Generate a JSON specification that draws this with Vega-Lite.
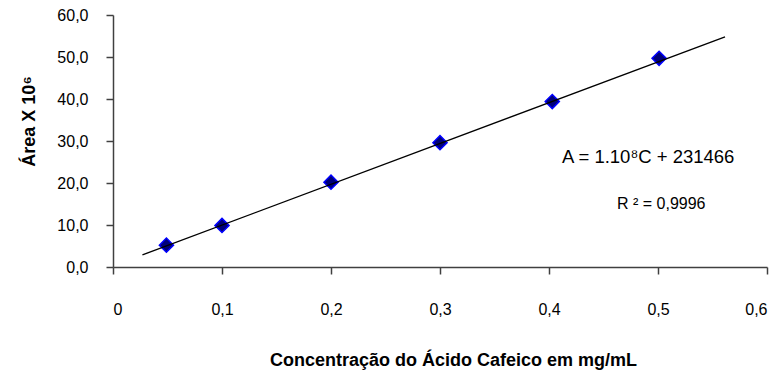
{
  "$schema": "https://vega.github.io/schema/vega-lite/v6.json",
  "width": 654,
  "height": 252,
  "autosize": {"type": "none"},
  "padding": {"left": 113, "top": 15, "right": 10, "bottom": 109},
  "background": "white",
  "config": {"view": {"stroke": null}, "font": "Liberation Sans"},
  "datasets": {
    "pts": [
      {"conc": 0.049, "area": 5.2},
      {"conc": 0.1, "area": 9.9},
      {"conc": 0.2, "area": 20.2},
      {"conc": 0.3, "area": 29.6},
      {"conc": 0.403, "area": 39.4},
      {"conc": 0.501, "area": 49.7}
    ],
    "fit": [
      {"conc": 0.027, "area": 2.9},
      {"conc": 0.5615, "area": 54.8}
    ],
    "eq": [{"conc": 0.491, "area": 26.2, "label": "A = 1.10⁸C + 231466"}],
    "r2": [{"conc": 0.503, "area": 15.1, "label": "R ² = 0,9996"}]
  },
  "layer": [
    {
      "data": {"name": "pts"},
      "mark": {"type": "point", "shape": "diamond", "filled": true, "size": 200, "fill": "#00007A", "stroke": "#0000FF", "strokeWidth": 1.5, "opacity": 1},
      "encoding": {
        "x": {
          "field": "conc", "type": "quantitative",
          "title": "Concentração do Ácido Cafeico em  mg/mL",
          "scale": {"domain": [0, 0.6], "nice": false, "zero": false},
          "axis": {
            "values": [0, 0.1, 0.2, 0.3, 0.4, 0.5, 0.6],
            "labelExpr": "replace(format(datum.value, '.1~f'), '.', ',')",
            "grid": false,
            "tickSize": 7, "tickWidth": 1.5, "tickColor": "#404040",
            "domainColor": "#404040", "domainWidth": 1.5,
            "labelPadding": 27, "labelFontSize": 16, "labelColor": "#000000", "labelDx": -4,
            "titleFontSize": 18, "titleFontWeight": "bold", "titleColor": "#000000",
            "titleX": 340, "titleY": 93, "titleBaseline": "middle", "titleAlign": "center"
          }
        },
        "y": {
          "field": "area", "type": "quantitative",
          "title": "Área X 10⁶",
          "scale": {"domain": [0, 60], "nice": false},
          "axis": {
            "values": [0, 10, 20, 30, 40, 50, 60],
            "labelExpr": "replace(format(datum.value, '.1f'), '.', ',')",
            "grid": false,
            "tickSize": 7, "tickWidth": 1.5, "tickColor": "#404040",
            "domainColor": "#404040", "domainWidth": 1.5,
            "labelPadding": 18, "labelFontSize": 16, "labelColor": "#000000",
            "titleFontSize": 18, "titleFontWeight": "bold", "titleColor": "#000000",
            "titleX": -84, "titleY": 106, "titleBaseline": "middle", "titleAlign": "center", "titleAngle": -90
          }
        }
      }
    },
    {
      "data": {"name": "fit"},
      "mark": {"type": "line", "color": "#000000", "strokeWidth": 1.3},
      "encoding": {
        "x": {"field": "conc", "type": "quantitative"},
        "y": {"field": "area", "type": "quantitative"}
      }
    },
    {
      "data": {"name": "eq"},
      "mark": {"type": "text", "fontSize": 18.5, "align": "center", "baseline": "middle", "color": "#000000"},
      "encoding": {
        "x": {"field": "conc", "type": "quantitative"},
        "y": {"field": "area", "type": "quantitative"},
        "text": {"field": "label"}
      }
    },
    {
      "data": {"name": "r2"},
      "mark": {"type": "text", "fontSize": 16, "align": "center", "baseline": "middle", "color": "#000000"},
      "encoding": {
        "x": {"field": "conc", "type": "quantitative"},
        "y": {"field": "area", "type": "quantitative"},
        "text": {"field": "label"}
      }
    }
  ]
}
